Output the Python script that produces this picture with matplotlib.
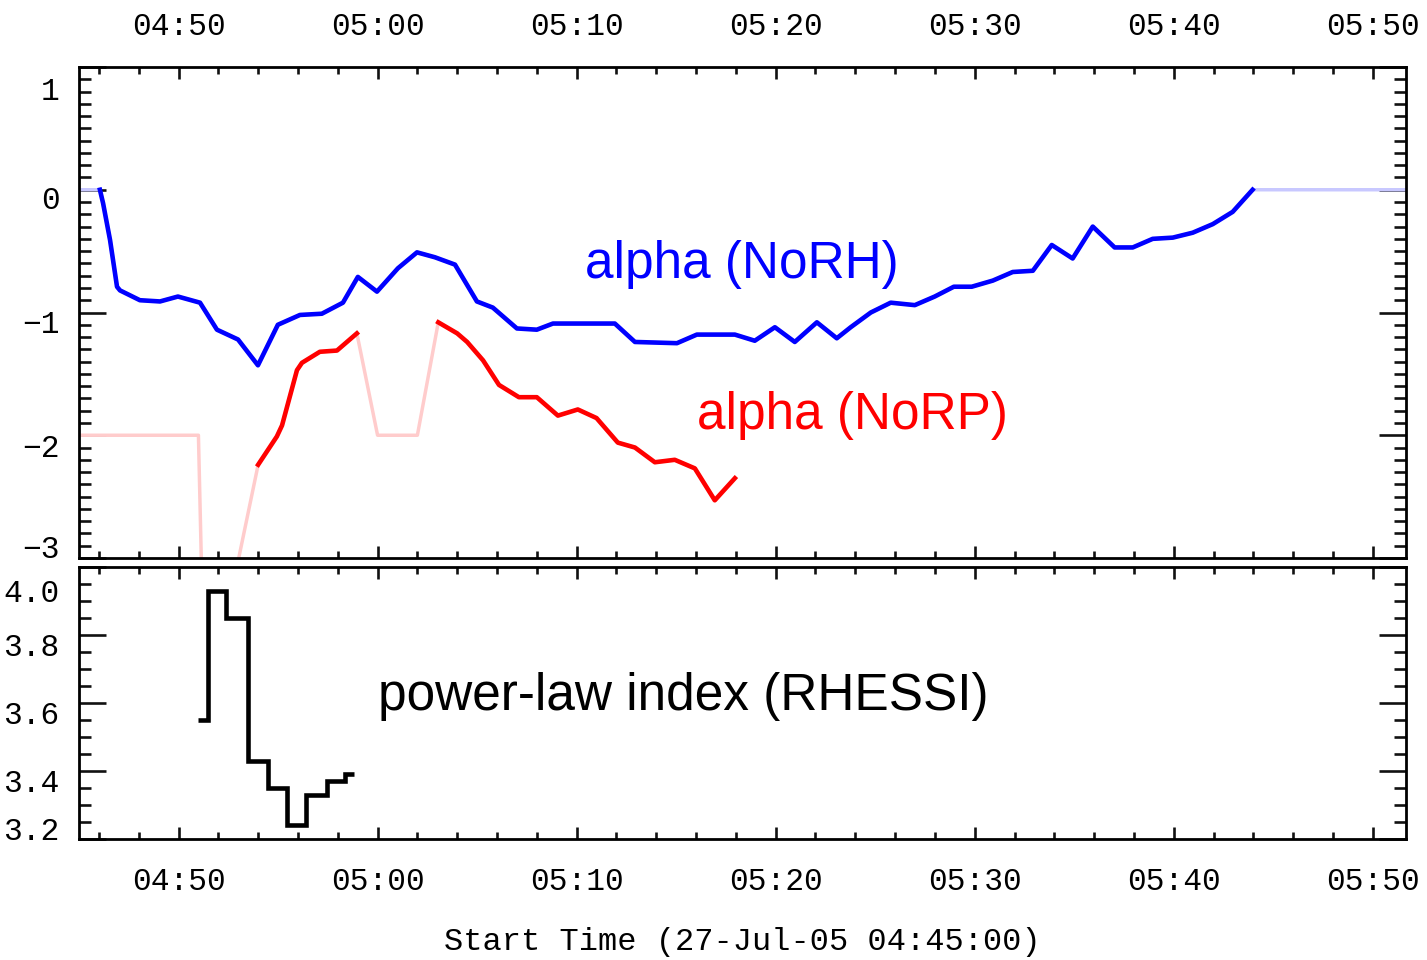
import numpy as np
import matplotlib
matplotlib.use("Agg")
import matplotlib.pyplot as plt
from matplotlib.ticker import FixedLocator, MultipleLocator, FuncFormatter
from matplotlib.transforms import ScaledTranslation

# times are minutes after 04:45:00 (27-Jul-05)
norh_time = [0.0, 1.05, 1.21, 1.56, 1.91, 2.06, 3.06, 4.07, 4.97, 6.08, 6.93,
             7.99, 8.99, 9.99, 11.10, 12.20, 13.26, 14.01, 14.97, 16.02, 16.98,
             17.88, 18.89, 19.99, 20.79, 22.0, 23.0, 23.81, 26.92, 27.93, 30.04,
             31.04, 32.95, 33.95, 34.96, 35.96, 37.07, 38.07, 38.77, 39.78, 40.78,
             41.99, 42.99, 43.95, 44.85, 45.91, 46.91, 47.92, 48.87, 49.92, 50.93,
             52.03, 52.94, 53.94, 54.95, 55.95, 56.96, 57.96, 58.96, 66.67]
norh_alpha = [0.0, 0.0, -0.11, -0.41, -0.79, -0.82, -0.90, -0.91, -0.87, -0.92, -1.14,
              -1.22, -1.43, -1.10, -1.02, -1.01, -0.92, -0.71, -0.83, -0.64, -0.51,
              -0.55, -0.61, -0.91, -0.96, -1.13, -1.14, -1.09, -1.09, -1.24, -1.25,
              -1.18, -1.18, -1.23, -1.12, -1.24, -1.08, -1.21, -1.12, -1.00, -0.92,
              -0.94, -0.87, -0.79, -0.79, -0.74, -0.67, -0.66, -0.45, -0.56, -0.30,
              -0.47, -0.47, -0.40, -0.39, -0.35, -0.28, -0.18, 0.0, 0.0]
norh_ok = [0] + [1] * 58 + [0]

norp_time = [0.0, 6.0, 7.0, 8.0, 9.0, 9.94, 10.2, 10.95, 11.2, 12.1, 12.96, 13.96,
             15.0, 16.0, 17.0, 18.05, 19.0, 19.5, 20.3, 21.1, 22.1, 23.0, 24.06,
             25.06, 26.0, 27.07, 27.93, 28.93, 29.93, 30.94, 31.94, 32.95]
norp_alpha = [-2.0, -2.0, -9.0, -3.02, -2.24, -2.01, -1.92, -1.47, -1.41, -1.32, -1.31, -1.17,
              -2.0, -2.0, -2.0, -1.08, -1.17, -1.24, -1.39, -1.59, -1.69, -1.69, -1.84,
              -1.79, -1.86, -2.06, -2.10, -2.22, -2.20, -2.27, -2.53, -2.35]
norp_ok = [0, 0, 0, 0, 1, 1, 1, 1, 1, 1, 1, 1,
           0, 0, 0, 1, 1, 1, 1, 1, 1, 1, 1,
           1, 1, 1, 1, 1, 1, 1, 1, 1]

rhessi_edges = [6.0, 6.5, 7.4, 8.5, 9.5, 10.45, 11.4, 12.45, 13.35, 13.8]
rhessi_index = [3.55, 3.93, 3.85, 3.43, 3.35, 3.24, 3.33, 3.37, 3.39]

t_end = 4000 / 60.0
major_t = [5, 15, 25, 35, 45, 55, 65]
top_yticks = [1, 0, -1, -2, -3]
bot_yticks = [4.0, 3.8, 3.6, 3.4, 3.2]


def hhmm(t, pos=None):
    m = int(round(t)) + 285
    return f"{m // 60:02d}:{m % 60:02d}"


def masked(vals, ok):
    v = np.array(vals, dtype=float)
    v[np.array(ok) == 0] = np.nan
    return v


plt.rcParams['font.family'] = ['Liberation Mono', 'DejaVu Sans']
plt.rcParams['font.size'] = 22.5

fig = plt.figure(figsize=(14.27, 9.6), dpi=100)
W, H = 1427, 960
ax1 = fig.add_axes([79 / W, 1 - 558 / H, 1327 / W, 491 / H])
ax2 = fig.add_axes([79 / W, 1 - 839 / H, 1327 / W, 272 / H])

# top panel
ax1.plot(norh_time, norh_alpha, color='#c8c8ff', lw=2.5)
ax1.plot(norp_time, norp_alpha, color='#ffcccc', lw=2.5)
ax1.plot(norh_time, masked(norh_alpha, norh_ok), color='#0000ff', lw=3.3)
ax1.plot(norp_time, masked(norp_alpha, norp_ok), color='#ff0000', lw=3.3)
ax1.set_ylim(-3, 1)
ax1.set_yticks(top_yticks)
ax1.yaxis.set_minor_locator(MultipleLocator(0.1))
ax1.text(25.41, -0.613, 'alpha (NoRH)', color='#0000ff', fontsize=37,
         family='Liberation Sans', va='center', ha='left')
ax1.text(31.04, -1.843, 'alpha (NoRP)', color='#ff0000', fontsize=37,
         family='Liberation Sans', va='center', ha='left')

# bottom panel
ax2.stairs(rhessi_index, rhessi_edges, baseline=None, color='black', lw=3.3)
ax2.set_ylim(3.2, 4.0)
ax2.set_yticks(bot_yticks)
ax2.set_yticklabels(['4.0', '3.8', '3.6', '3.4', '3.2'])
ax2.yaxis.set_minor_locator(MultipleLocator(0.05))
ax2.text(15.02, 3.62, 'power-law index (RHESSI)', color='black', fontsize=37,
         family='Liberation Sans', va='center', ha='left')
ax2.set_xlabel('Start Time (27-Jul-05 04:45:00)', fontsize=23, labelpad=22)

for ax in (ax1, ax2):
    ax.set_xlim(0, t_end)
    ax.xaxis.set_major_locator(FixedLocator(major_t))
    ax.xaxis.set_minor_locator(FixedLocator(np.arange(1, 67, 2)))
    ax.xaxis.set_major_formatter(FuncFormatter(hhmm))
    ax.tick_params(which='both', direction='in', top=True, right=True,
                   width=1.9, color='#111111')
    ax.tick_params(axis='x', which='major', length=8.5)
    ax.tick_params(axis='x', which='minor', length=5)
    ax.tick_params(axis='y', which='major', length=19.5, pad=14)
    ax.tick_params(axis='y', which='minor', length=8.5)
    for s in ax.spines.values():
        s.set_linewidth(2)

ax1.tick_params(axis='x', labeltop=True, labelbottom=False, pad=18)
ax2.tick_params(axis='x', labeltop=False, labelbottom=True, pad=20)

# IDL-style vertical nudges of the y labels (pixels, downward)
for ax, shifts in ((ax1, [22, 8, 9, 10, -11]), (ax2, [23, 9, 9, 9, -10])):
    for tick, d in zip(ax.yaxis.get_major_ticks(), shifts):
        tick.label1.set_transform(tick.label1.get_transform() +
                                  ScaledTranslation(0, -d / 100, fig.dpi_scale_trans))

fig.savefig('out.png', dpi=100)
